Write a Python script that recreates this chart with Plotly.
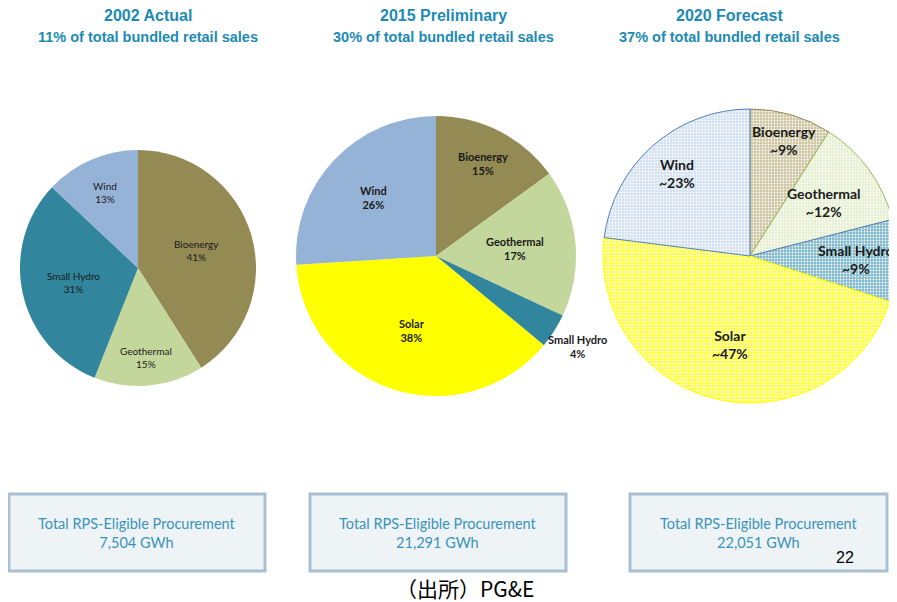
import math
import plotly.graph_objs as go

# data
labels_2002 = ['Bioenergy', 'Geothermal', 'Small Hydro', 'Wind']
values_2002 = [41, 15, 31, 13]

labels_2015 = ['Bioenergy', 'Geothermal', 'Small Hydro', 'Solar', 'Wind']
values_2015 = [15, 17, 4, 38, 26]

labels_2020 = ['Bioenergy', 'Geothermal', 'Small Hydro', 'Solar', 'Wind']
values_2020 = [9, 12, 9, 47, 23]

titles = ['2002 Actual', '2015 Preliminary', '2020 Forecast']
subtitles = ['11% of total bundled retail sales',
             '30% of total bundled retail sales',
             '37% of total bundled retail sales']
procurement = ['7,504 GWh', '21,291 GWh', '22,051 GWh']

# the page body adds an 8px margin, so the figure is 8px smaller and
# window pixel positions are shifted by that offset
OFF = 8
W, H = 897 - OFF, 602 - OFF


def px_x(x):
    return (x - OFF) / W


def px_y(y):
    return 1 - (y - OFF) / H


colors = {'Bioenergy': '#948A54', 'Geothermal': '#C3D69B', 'Small Hydro': '#31859C',
          'Wind': '#95B3D7', 'Solar': '#FFFF00'}
# lighter, dotted look for the forecast pie
bg_2020 = {'Bioenergy': '#CDC4A0', 'Geothermal': '#E6EFCF', 'Small Hydro': '#7DB8CC',
           'Wind': '#D2E0F1', 'Solar': '#FFFF3A'}
edge_2020 = {'Bioenergy': '#948A54', 'Geothermal': '#9BBB59', 'Small Hydro': '#4F81BD',
             'Wind': '#4F81BD', 'Solar': '#FFFF00'}

# pie geometry in window pixels: centre x, centre y, radius
geo = [(138, 268, 118), (436, 256, 140), (750, 256, 147)]
# how far out each label sits (fraction of radius)
label_r = [[0.52, 0.76, 0.56, 0.70],
           [0.74, 0.57, 1.20, 0.56, 0.61],
           [0.82, 0.62, 0.72, 0.62, 0.75]]
label_font = [dict(family='Lato, Roboto', size=10, color='#1a1a1a'),
              dict(family='Lato, Roboto', size=11, color='#1a1a1a'),
              dict(family='Lato, Roboto', size=14, color='#1a1a1a')]
label_bold = [False, True, True]


def dom(cx, cy, r):
    return dict(x=[px_x(cx - r), px_x(cx + r)], y=[px_y(cy + r), px_y(cy - r)])


fig = go.Figure()

fig.add_trace(go.Pie(labels=labels_2002, values=values_2002, domain=dom(*geo[0]),
                     sort=False, direction='clockwise', rotation=0, textinfo='none',
                     marker=dict(colors=[colors[l] for l in labels_2002], line=dict(width=0)),
                     showlegend=False))
fig.add_trace(go.Pie(labels=labels_2015, values=values_2015, domain=dom(*geo[1]),
                     sort=False, direction='clockwise', rotation=0, textinfo='none',
                     marker=dict(colors=[colors[l] for l in labels_2015], line=dict(width=0)),
                     showlegend=False))
fig.add_trace(go.Pie(labels=labels_2020, values=values_2020, domain=dom(*geo[2]),
                     sort=False, direction='clockwise', rotation=0, textinfo='none',
                     marker=dict(colors=[bg_2020[l] for l in labels_2020],
                                 line=dict(width=1, color=[edge_2020[l] for l in labels_2020]),
                                 pattern=dict(shape='.', size=3, solidity=0.3,
                                              fgcolor='white',
                                              bgcolor=[bg_2020[l] for l in labels_2020])),
                     showlegend=False))

annotations = []
pies = [(labels_2002, values_2002, ''), (labels_2015, values_2015, ''), (labels_2020, values_2020, '~')]
for i, (labs, vals, pre) in enumerate(pies):
    cx, cy, r = geo[i]
    tot = sum(vals)
    cum = 0
    for j, (lab, v) in enumerate(zip(labs, vals)):
        mid = (cum + v / 2) / tot * 2 * math.pi
        cum += v
        k = label_r[i][j] * r
        lx = cx + k * math.sin(mid)
        ly = cy - k * math.cos(mid)
        txt = f'{lab}<br>{pre}{v}%'
        if label_bold[i]:
            txt = f'<b>{lab}</b><br><b>{pre}{v}%</b>'
        annotations.append(dict(x=px_x(lx), y=px_y(ly), xref='paper', yref='paper',
                                xanchor='center', yanchor='middle',
                                text=txt, showarrow=False,
                                font=label_font[i], align='center'))

# titles
title_x = [148, 443, 729]
for i in range(3):
    annotations.append(dict(x=px_x(title_x[i]), y=px_y(15), xref='paper', yref='paper',
                            xanchor='center', yanchor='middle',
                            text=f'<b>{titles[i]}</b>', showarrow=False,
                            font=dict(family='Liberation Sans, Arial', size=16, color='#1D8AB5')))
    annotations.append(dict(x=px_x(title_x[i]), y=px_y(37), xref='paper', yref='paper',
                            xanchor='center', yanchor='middle',
                            text=f'<b>{subtitles[i]}</b>', showarrow=False,
                            font=dict(family='Liberation Sans, Arial', size=14.5, color='#1D8AB5')))

# procurement boxes
boxes = [(9, 265), (310, 566), (630, 887)]
shapes = []
for i, (x0, x1) in enumerate(boxes):
    shapes.append(dict(type='rect', xref='paper', yref='paper', x0=px_x(x0), x1=px_x(x1),
                       y0=px_y(571), y1=px_y(494),
                       line=dict(color='#A9C0D2', width=3), fillcolor='#EEF3F6', layer='below'))
    annotations.append(dict(x=px_x((x0 + x1) / 2), y=px_y(533), xref='paper', yref='paper',
                            xanchor='center', yanchor='middle',
                            text=f'Total RPS-Eligible Procurement<br>{procurement[i]}',
                            showarrow=False, align='center',
                            font=dict(family='Lato, Roboto', size=14.5, color='#3A93BC')))

annotations.append(dict(x=px_x(845), y=px_y(557), xref='paper', yref='paper', text='22',
                        xanchor='center', yanchor='middle',
                        showarrow=False, font=dict(family='Liberation Sans, Arial', size=16,
                                                   color='black')))
annotations.append(dict(x=px_x(465), y=px_y(588), xref='paper', yref='paper',
                        xanchor='center', yanchor='middle',
                        text='（出所）PG&E', showarrow=False,
                        font=dict(family='Noto Sans CJK JP', size=21, color='black')))

fig.update_layout(width=W, height=H, margin=dict(l=0, r=0, t=0, b=0),
                  paper_bgcolor='white', plot_bgcolor='white',
                  annotations=annotations, shapes=shapes)

fig.write_html('out.html')
